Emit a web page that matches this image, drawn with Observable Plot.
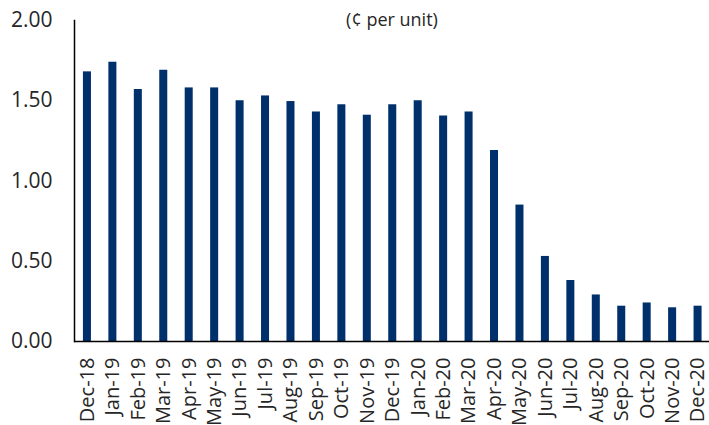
<!DOCTYPE html>
<html>
<head>
<meta charset="utf-8">
<script src="https://cdn.jsdelivr.net/npm/d3@7"></script>
<script src="https://cdn.jsdelivr.net/npm/@observablehq/plot@0.6"></script>
<style>
  html, body { margin: 0; padding: 0; background: #fff; }
  #chart svg { display: block; }
</style>
</head>
<body>
<div id="chart"></div>
<script>
const months = ["Dec-18","Jan-19","Feb-19","Mar-19","Apr-19","May-19","Jun-19","Jul-19","Aug-19","Sep-19","Oct-19","Nov-19","Dec-19","Jan-20","Feb-20","Mar-20","Apr-20","May-20","Jun-20","Jul-20","Aug-20","Sep-20","Oct-20","Nov-20","Dec-20"];
const values = [1.68,1.74,1.57,1.69,1.58,1.58,1.50,1.53,1.495,1.43,1.475,1.41,1.475,1.50,1.405,1.43,1.19,0.85,0.53,0.38,0.29,0.22,0.24,0.21,0.22];
const yTicks = [0, 0.5, 1, 1.5, 2];
const title = "(¢ per unit)";

const data = months.map((m, i) => ({month: m, value: values[i]}));

const chart = Plot.plot({
  width: 709,
  height: 425,
  marginLeft: 74,
  marginRight: 0,
  marginTop: 20,
  marginBottom: 84,
  style: {fontFamily: "'Open Sans', sans-serif", background: "#fff"},
  x: {domain: months, padding: 0.685, insetLeft: -8.5, insetRight: -10, round: false, align: 0.5},
  y: {domain: [0, 2]},
  marks: [
    Plot.barY(data, {x: "month", y: "value", fill: "#00306B"}),
    Plot.axisX({tickSize: 0, tickPadding: 16, tickRotate: -90, label: null, fontSize: 20, fill: "#262626"}),
    Plot.axisY({ticks: yTicks, tickFormat: d3.format(".2f"), tickSize: 0, tickPadding: 22, label: null, fontSize: 21, fill: "#262626"}),
    Plot.frame({anchor: "left", stroke: "#000", strokeWidth: 1.5}),
    Plot.ruleY([0], {stroke: "#000", strokeWidth: 1.5}),
    Plot.text([title], {frameAnchor: "top", dy: -7, fontSize: 18, fill: "#262626"})
  ]
});
document.getElementById("chart").appendChild(chart);
</script>
</body>
</html>
